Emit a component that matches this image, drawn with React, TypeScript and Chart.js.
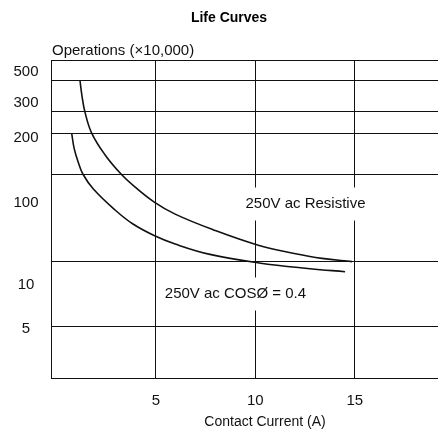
import React, { useEffect, useRef } from 'react';
import { Chart, LinearScale, registerables } from 'chart.js';

// ---------- data ----------
const chartTitle = 'Life Curves';
const yAxisTitle = 'Operations (×10,000)';
const xAxisTitle = 'Contact Current (A)';

const xTickValues = [5, 10, 15];
const yGridValues = [1000, 500, 300, 200, 100, 10, 5];
const yLabelValues = [500, 300, 200, 100, 10, 5];

const resistiveLabel = '250V ac Resistive';
const resistiveCurrent = [1.19, 1.28, 1.44, 1.78, 2.45, 3.25, 3.96, 4.92, 5.97, 7.87, 10.19, 11.89, 13.35, 14.86];
const resistiveOps = [500, 397, 298, 199, 138, 100, 71, 48, 35, 23.3, 15.4, 12.6, 11.0, 10.1];

const inductiveLabel = '250V ac COSØ = 0.4';
const inductiveCurrent = [0.77, 0.89, 1.09, 1.33, 1.86, 2.95, 3.85, 4.91, 5.97, 7.72, 10.19, 12.75, 14.51];
const inductiveOps = [199, 155, 123, 100, 67.5, 39, 27, 20, 16, 12.2, 9.9, 9.3, 9.0];

// ---------- axis layout (value -> fraction of plot height) ----------
const SCALE_ANCHORS: Record<string, [number, number][]> = {
  y: [
    [2, 0],
    [5, 0.1635],
    [10, 0.3648],
    [100, 0.6415],
    [200, 0.7704],
    [300, 0.8365],
    [500, 0.934],
    [1000, 1],
  ],
  yl: [
    [2, 0],
    [5, 0.1557],
    [10, 0.294],
    [100, 0.5519],
    [200, 0.7547],
    [300, 0.8664],
    [500, 0.9623],
    [1000, 1],
  ],
};

class AnchoredLogScale extends LinearScale {
  static id = 'anchoredLog';
  static defaults = { ticks: { callback: (v: number) => String(v) } };

  anchors(): [number, number][] {
    return SCALE_ANCHORS[(this as any).id] || SCALE_ANCHORS.y;
  }
  determineDataLimits() {
    const a = this.anchors();
    (this as any).min = a[0][0];
    (this as any).max = a[a.length - 1][0];
  }
  fracFor(value: number): number {
    const a = this.anchors();
    if (value <= a[0][0]) return a[0][1];
    const lv = Math.log10(value);
    for (let i = 1; i < a.length; i++) {
      if (value <= a[i][0]) {
        const l0 = Math.log10(a[i - 1][0]);
        const l1 = Math.log10(a[i][0]);
        const t = (lv - l0) / (l1 - l0);
        return a[i - 1][1] + t * (a[i][1] - a[i - 1][1]);
      }
    }
    return a[a.length - 1][1];
  }
  getPixelForValue(value: number) {
    return (this as any).getPixelForDecimal(this.fracFor(value));
  }
  getValueForPixel(pixel: number) {
    const d = (this as any).getDecimalForPixel(pixel);
    const a = this.anchors();
    for (let i = 1; i < a.length; i++) {
      if (d <= a[i][1]) {
        const t = (d - a[i - 1][1]) / (a[i][1] - a[i - 1][1]);
        const l = Math.log10(a[i - 1][0]) + t * (Math.log10(a[i][0]) - Math.log10(a[i - 1][0]));
        return Math.pow(10, l);
      }
    }
    return a[a.length - 1][0];
  }
}

Chart.register(...registerables, AnchoredLogScale);

const FONT = '"Liberation Sans", Arial, Helvetica, sans-serif';
const INK = '#111';
const Y_LABEL_CENTER = 26;

const annotations = [
  { text: resistiveLabel, x: 12.52, y: 45.6 },
  { text: inductiveLabel, x: 9.0, y: 7.07 },
];

const textPlugin = {
  id: 'textPlugin',
  afterDatasetsDraw(chart: any) {
    const ctx = chart.ctx;
    const xs = chart.scales.x;
    const ys = chart.scales.y;
    ctx.save();
    ctx.font = `15px ${FONT}`;
    ctx.textAlign = 'center';
    ctx.textBaseline = 'middle';
    annotations.forEach((a) => {
      const px = xs.getPixelForValue(a.x);
      const py = ys.getPixelForValue(a.y);
      const w = ctx.measureText(a.text).width;
      ctx.fillStyle = '#fff';
      ctx.fillRect(px - w / 2 - 6, py - 16.5, w + 12, 33);
      ctx.fillStyle = '#111';
      ctx.fillText(a.text, px, py);
    });
    ctx.restore();
  },
  afterDraw(chart: any) {
    const ctx = chart.ctx;
    const area = chart.chartArea;
    const yl = chart.scales.yl;
    ctx.save();
    ctx.fillStyle = '#000';
    ctx.textBaseline = 'middle';
    ctx.font = `bold 14px ${FONT}`;
    ctx.textAlign = 'center';
    ctx.fillText(chartTitle, 229, 18);
    ctx.font = `15px ${FONT}`;
    ctx.textAlign = 'left';
    ctx.fillStyle = '#111';
    ctx.fillText(yAxisTitle, area.left + 1, area.top - 9);
    // y tick labels, centred in the left margin
    yl.ticks.forEach((t: any) => {
      const s = String(t.value);
      const w = ctx.measureText(s).width;
      ctx.fillText(s, Y_LABEL_CENTER - w / 2, yl.getPixelForValue(t.value));
    });
    ctx.font = `14px ${FONT}`;
    ctx.textAlign = 'center';
    ctx.fillText(xAxisTitle, 265, area.bottom + 44);
    ctx.restore();
  },
};

export default function App() {
  const ref = useRef<HTMLCanvasElement | null>(null);

  useEffect(() => {
    if (!ref.current) return;
    Chart.defaults.font.family = FONT;
    const toPoints = (xs: number[], ys: number[]) => xs.map((x, i) => ({ x, y: ys[i] }));
    const chart = new Chart(ref.current, {
      type: 'line',
      data: {
        datasets: [
          {
            label: resistiveLabel,
            data: toPoints(resistiveCurrent, resistiveOps),
            borderColor: '#111',
            borderWidth: 1.6,
            pointRadius: 0,
            tension: 0.4,
            fill: false,
          },
          {
            label: inductiveLabel,
            data: toPoints(inductiveCurrent, inductiveOps),
            borderColor: '#111',
            borderWidth: 1.6,
            pointRadius: 0,
            tension: 0.4,
            fill: false,
          },
        ],
      },
      options: {
        animation: false,
        responsive: true,
        maintainAspectRatio: false,
        layout: { padding: { top: 60, left: 0, right: 0, bottom: 0 } },
        plugins: {
          legend: { display: false },
          title: { display: false },
          tooltip: { enabled: false },
        },
        scales: {
          x: {
            type: 'linear',
            min: -0.27,
            max: 19.18,
            afterBuildTicks: (s: any) => {
              s.ticks = xTickValues.map((v) => ({ value: v }));
            },
            afterFit: (s: any) => {
              s.height = 51;
            },
            grid: { color: INK, lineWidth: 1, drawTicks: false },
            border: { display: true, color: INK, width: 1 },
            ticks: {
              color: '#111',
              font: { size: 15, family: FONT },
              padding: 14,
              autoSkip: false,
              maxRotation: 0,
            },
          },
          y: {
            type: 'anchoredLog' as any,
            position: 'left',
            weight: 0,
            afterBuildTicks: (s: any) => {
              s.ticks = yGridValues.map((v) => ({ value: v }));
            },
            afterFit: (s: any) => {
              s.width = 0;
            },
            grid: { color: INK, lineWidth: 1, drawTicks: false },
            border: { display: true, color: INK, width: 1 },
            ticks: { display: false },
          },
          yl: {
            type: 'anchoredLog' as any,
            position: 'left',
            weight: 1,
            afterBuildTicks: (s: any) => {
              s.ticks = yLabelValues.map((v) => ({ value: v }));
            },
            afterFit: (s: any) => {
              s.width = 51;
            },
            grid: { display: false, drawTicks: false },
            border: { display: false },
            ticks: { display: false },
          },
        } as any,
      },
      plugins: [textPlugin],
    });
    return () => chart.destroy();
  }, []);

  return (
    <div style={{ position: 'absolute', left: 0, top: 0, width: 438, height: 429, background: '#fff' }}>
      <canvas ref={ref} />
    </div>
  );
}
